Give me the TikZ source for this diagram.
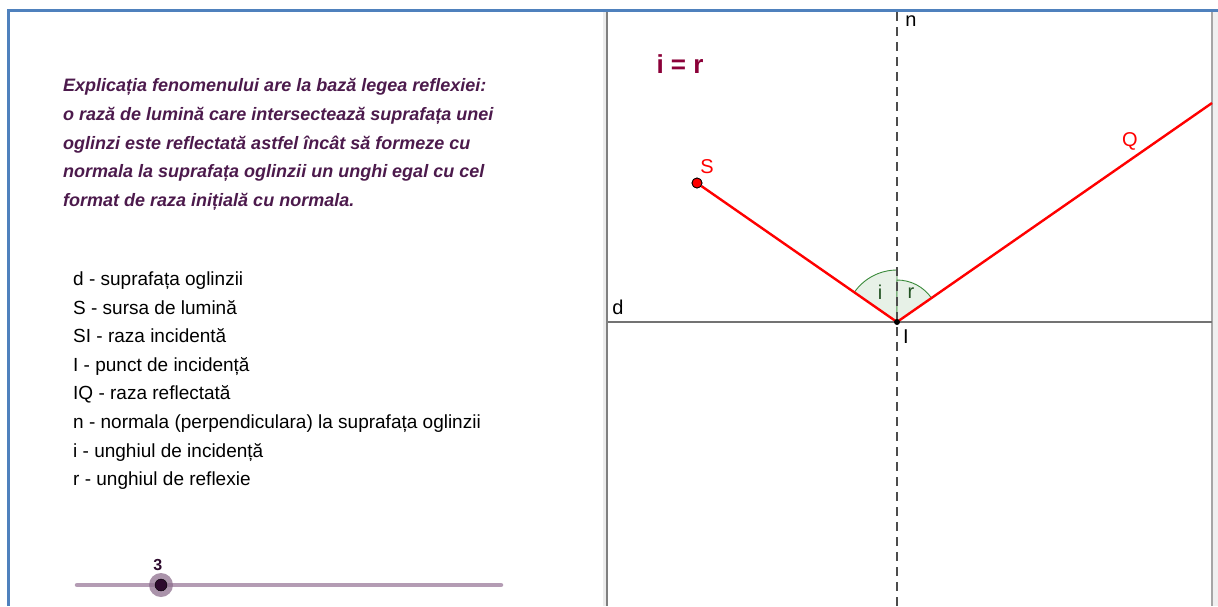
\documentclass[tikz,border=0pt]{standalone}
\usepackage{fontspec}
\setmainfont{Liberation Sans}
\usetikzlibrary{positioning}

\definecolor{frameblue}{HTML}{4F81BD}
\definecolor{textpurple}{HTML}{4C1A4C}
\definecolor{lawred}{HTML}{8B0038}
\definecolor{rayred}{HTML}{FF0000}
\definecolor{anglegreen}{HTML}{3A8A3A}
\definecolor{sliderpurple}{HTML}{B49CB4}
\definecolor{knobpurple}{HTML}{8E6F8E}
\definecolor{knobdark}{HTML}{2D0A2D}

\begin{document}
\begin{tikzpicture}[
  x=1pt,y=-1pt,
  expl/.style={anchor=base west,inner sep=0,text=textpurple,
    font=\fontsize{18}{22}\selectfont\bfseries\itshape},
  item/.style={anchor=base west,inner sep=0,font=\fontsize{19}{22}\selectfont},
  lbl/.style={inner sep=0,font=\fontsize{20}{24}\selectfont},
  ray/.style={rayred,line width=2.4pt},
  sector/.style={draw=anglegreen,fill=anglegreen!12,line width=0.9pt},
  spoint/.style={circle,draw=black,fill=rayred,line width=0.8pt,inner sep=0,minimum size=10pt},
  ipoint/.style={circle,fill=black,inner sep=0,minimum size=6pt},
  knob/.style={circle,fill=knobpurple,fill opacity=.75,inner sep=0,minimum size=24pt},
  knobdot/.style={circle,fill=knobdark,draw=black,inner sep=0,minimum size=12pt}
]
  \useasboundingbox (0,0) rectangle (1218,606);

  % frame of the applet
  \fill[gray!15] (603,11) rectangle (607,606);
  \fill[gray!12] (1212,11) rectangle (1218,606);
  \draw[gray,line width=1.4pt] (607,11) -- (607,606);
  \draw[gray!70,line width=1.4pt] (1212,11) -- (1212,606);
  \draw[frameblue,line width=3pt] (8,606) -- (8,10) -- (1218,10);

  % left panel
  \foreach \t [count=\k] in {
      Explicația fenomenului are la bază legea reflexiei:,
      o rază de lumină care intersectează suprafața unei,
      oglinzi este reflectată astfel încât să formeze cu,
      normala la suprafața oglinzii un unghi egal cu cel,
      format de raza inițială cu normala.}
    \node[expl] (expl\k) at (63,{91.5+28.75*(\k-1)}) {\t};

  \foreach \t [count=\k] in {
      d - suprafața oglinzii,
      S - sursa de lumină,
      SI - raza incidentă,
      I - punct de incidență,
      IQ - raza reflectată,
      n - normala (perpendiculara) la suprafața oglinzii,
      i - unghiul de incidență,
      r - unghiul de reflexie}
    \node[item] (item\k) at (73,{285.5+28.6*(\k-1)}) {\t};

  \coordinate (barL) at (77,585);
  \coordinate (barR) at (501,585);
  \draw[sliderpurple,line width=4.5pt,line cap=round] (barL) -- (barR);
  \node[knob] (knob) at (161,585) {};
  \node[knobdot] (dot) at (knob.center) {};
  \node[lbl,text=knobdark,font=\fontsize{16}{20}\selectfont\bfseries,above left=6pt and -10pt of knob] (val) {3};

  % right panel
  \coordinate (I) at (897,322);
  \coordinate (Q) at (1212,103);
  \coordinate (dL) at (608,322);
  \coordinate (dR) at (1212,322);
  \coordinate (nT) at (897,12);
  \coordinate (nB) at (897,606);
  \node[spoint] (S) at (697,183) {};

  \draw[sector] (I) -- ++(-90:52) arc[start angle=-90,end angle=-145.2,radius=52] -- cycle;
  \draw[sector] (I) -- ++(-90:42) arc[start angle=-90,end angle=-34.8,radius=42] -- cycle;

  \draw[black!55,line width=2pt] (dL) -- (dR);
  \draw[black!70,line width=1.2pt,dash pattern=on 9pt off 6pt] (nT) -- (nB);
  \draw[ray] (S) -- (I) -- (Q);
  \node[spoint] at (S) {};
  \node[ipoint] (Ipt) at (I) {};

  \node[lbl,text=lawred,font=\fontsize{26}{30}\selectfont\bfseries,anchor=base] (law) at (680,73) {i = r};
  \node[lbl,text=rayred] (Slbl) at (707,167) {S};
  \node[lbl,text=rayred] (Qlbl) at (1130,141) {Q};
  \node[lbl] (nlbl) at (911,21) {n};
  \node[lbl] (dlbl) at (618,307) {d};
  \node[lbl] (Ilbl) at (906,337) {I};
  \node[lbl,text=anglegreen!60!black] (ilbl) at (880,292) {i};
  \node[lbl,text=anglegreen!60!black] (rlbl) at (911,293) {r};
\end{tikzpicture}
\end{document}
